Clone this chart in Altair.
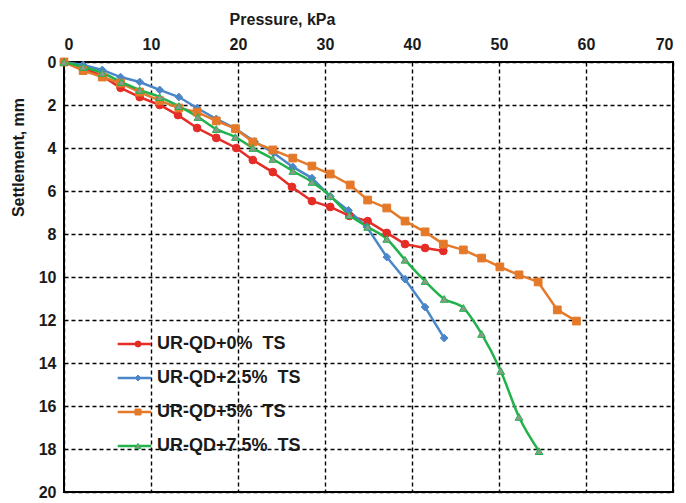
import altair as alt
import pandas as pd

names = ["UR-QD+0%\u00a0\u00a0TS", "UR-QD+2.5%\u00a0\u00a0TS", "UR-QD+5%\u00a0\u00a0TS", "UR-QD+7.5%\u00a0\u00a0TS"]
keys = ["s0", "s1", "s2", "s3"]
line_colors = ["#E52D27", "#4B87C8", "#E4792A", "#21B24B"]
fill_colors = ["#E52D27", "#4B87C8", "#E4792A", "#8A9B8C"]
shapes = ["circle", "diamond", "square", "triangle-up"]

red_p = [0, 2.2, 4.4, 6.5, 8.7, 11.0, 13.1, 15.3, 17.5, 19.8, 21.7, 24.0, 26.2, 28.5, 30.6, 32.8, 34.9, 37.1, 39.2, 41.5, 43.6]
red_s = [0, 0.28, 0.65, 1.2, 1.63, 2.0, 2.47, 3.07, 3.53, 4.0, 4.56, 5.12, 5.81, 6.47, 6.74, 7.16, 7.4, 7.95, 8.47, 8.65, 8.79]

blue_p = [0, 2.2, 4.4, 6.5, 8.7, 11.0, 13.2, 15.3, 17.5, 19.7, 21.9, 24.1, 26.3, 28.5, 30.6, 32.7, 34.8, 37.1, 39.2, 41.5, 43.7]
blue_s = [0, 0.14, 0.37, 0.7, 0.93, 1.3, 1.63, 2.14, 2.65, 3.1, 3.7, 4.23, 4.88, 5.4, 6.25, 6.9, 7.67, 9.07, 10.1, 11.4, 12.84]

orange_p = [0, 2.2, 4.4, 6.5, 8.7, 11.0, 13.2, 15.3, 17.5, 19.7, 21.7, 24.0, 26.3, 28.5, 30.6, 32.9, 34.9, 37.1, 39.2, 41.5, 43.6, 45.9, 48.0, 50.1, 52.3, 54.5, 56.7, 58.9]
orange_s = [0, 0.4, 0.7, 0.98, 1.4, 1.8, 2.14, 2.33, 2.74, 3.1, 3.72, 4.09, 4.47, 4.84, 5.21, 5.72, 6.42, 6.79, 7.4, 7.9, 8.47, 8.74, 9.12, 9.53, 9.9, 10.23, 11.53, 12.05]

green_p = [0, 2.2, 4.4, 6.6, 8.7, 11.0, 13.2, 15.4, 17.5, 19.7, 21.7, 24.0, 26.3, 28.5, 30.6, 32.8, 34.9, 37.1, 39.2, 41.5, 43.7, 45.9, 48.0, 50.2, 52.3, 54.6]
green_s = [0, 0.23, 0.51, 0.93, 1.3, 1.63, 2.05, 2.56, 3.12, 3.49, 4.0, 4.51, 5.07, 5.58, 6.23, 7.12, 7.67, 8.23, 9.2, 10.19, 11.02, 11.44, 12.65, 14.37, 16.51, 18.1]

x_ticks = [0, 10, 20, 30, 40, 50, 60, 70]
y_ticks = [0, 2, 4, 6, 8, 10, 12, 14, 16, 18, 20]

rows = []
for name, key, ps, ss in zip(names, keys, [red_p, blue_p, orange_p, green_p], [red_s, blue_s, orange_s, green_s]):
    for i, (p, s) in enumerate(zip(ps, ss)):
        rows.append({"series": name, "key": key, "pressure": p, "settlement": s, "idx": i})
df = pd.DataFrame(rows)

FONT = "Liberation Sans"

xenc = alt.X("pressure:Q",
             scale=alt.Scale(domain=[0, 70], nice=False),
             axis=alt.Axis(orient="top", values=x_ticks, title="Pressure, kPa",
                           titleX=218, titleY=-43, titleBaseline="middle",
                           labelPadding=10))
yenc = alt.Y("settlement:Q",
             scale=alt.Scale(domain=[0, 20], nice=False, reverse=True),
             axis=alt.Axis(values=y_ticks, title="Settlement, mm",
                           titleX=-46, titleY=95, titleAngle=270,
                           titleAlign="center", titleBaseline="middle",
                           labelPadding=8))

legA = alt.Legend(orient="none", legendX=61.5, legendY=273, title=None,
                  symbolType="M-2.4,0H2.4", symbolSize=196, symbolStrokeWidth=2.5,
                  labelFont=FONT, labelFontSize=18, labelFontWeight="bold",
                  labelColor="#1a1a1a", rowPadding=16, labelOffset=13.5, padding=0)
legB = alt.Legend(orient="none", legendX=65, legendY=273, title=None,
                  symbolSize=36, symbolStrokeWidth=1,
                  labelFont=FONT, labelFontSize=18, labelFontWeight="bold",
                  labelExpr="''", rowPadding=16, padding=0)

color_enc = alt.Color("series:N", scale=alt.Scale(domain=names, range=line_colors), legend=legA)

base = alt.Chart(df)

lines_straight = base.transform_filter(alt.datum.key != "s3").mark_line(strokeWidth=2.5).encode(
    x=xenc, y=yenc, color=color_enc, order="idx:Q")
lines_smooth = base.transform_filter(alt.datum.key == "s3").mark_line(strokeWidth=2.5, interpolate="monotone").encode(
    x=xenc, y=yenc, color=color_enc, order="idx:Q")

points = base.mark_point(filled=True, size=60, strokeWidth=1, opacity=1).encode(
    x=xenc, y=yenc,
    fill=alt.Fill("key:N", scale=alt.Scale(domain=keys, range=fill_colors), legend=legB),
    stroke=alt.Stroke("key:N", scale=alt.Scale(domain=keys, range=line_colors), legend=legB),
    shape=alt.Shape("key:N", scale=alt.Scale(domain=keys, range=shapes), legend=legB),
)

chart = alt.layer(lines_straight, lines_smooth, points).properties(
    width=609, height=430,
    autosize=alt.AutoSizeParams(type="none"),
    padding={"left": 56, "top": 54, "right": 5, "bottom": 11},
).configure(
    background="white"
).configure_view(
    stroke="black", strokeWidth=2
).configure_axis(
    domain=False, ticks=False,
    grid=True, gridColor="black", gridDash=[4, 3], gridWidth=1.4, gridOpacity=1,
    labelFont=FONT, labelFontSize=16, labelFontWeight="bold", labelColor="#1a1a1a",
    titleFont=FONT, titleFontSize=16, titleFontWeight="bold", titleColor="#1a1a1a",
)

chart.save("out.html", embed_options={"renderer": "svg", "actions": False})
